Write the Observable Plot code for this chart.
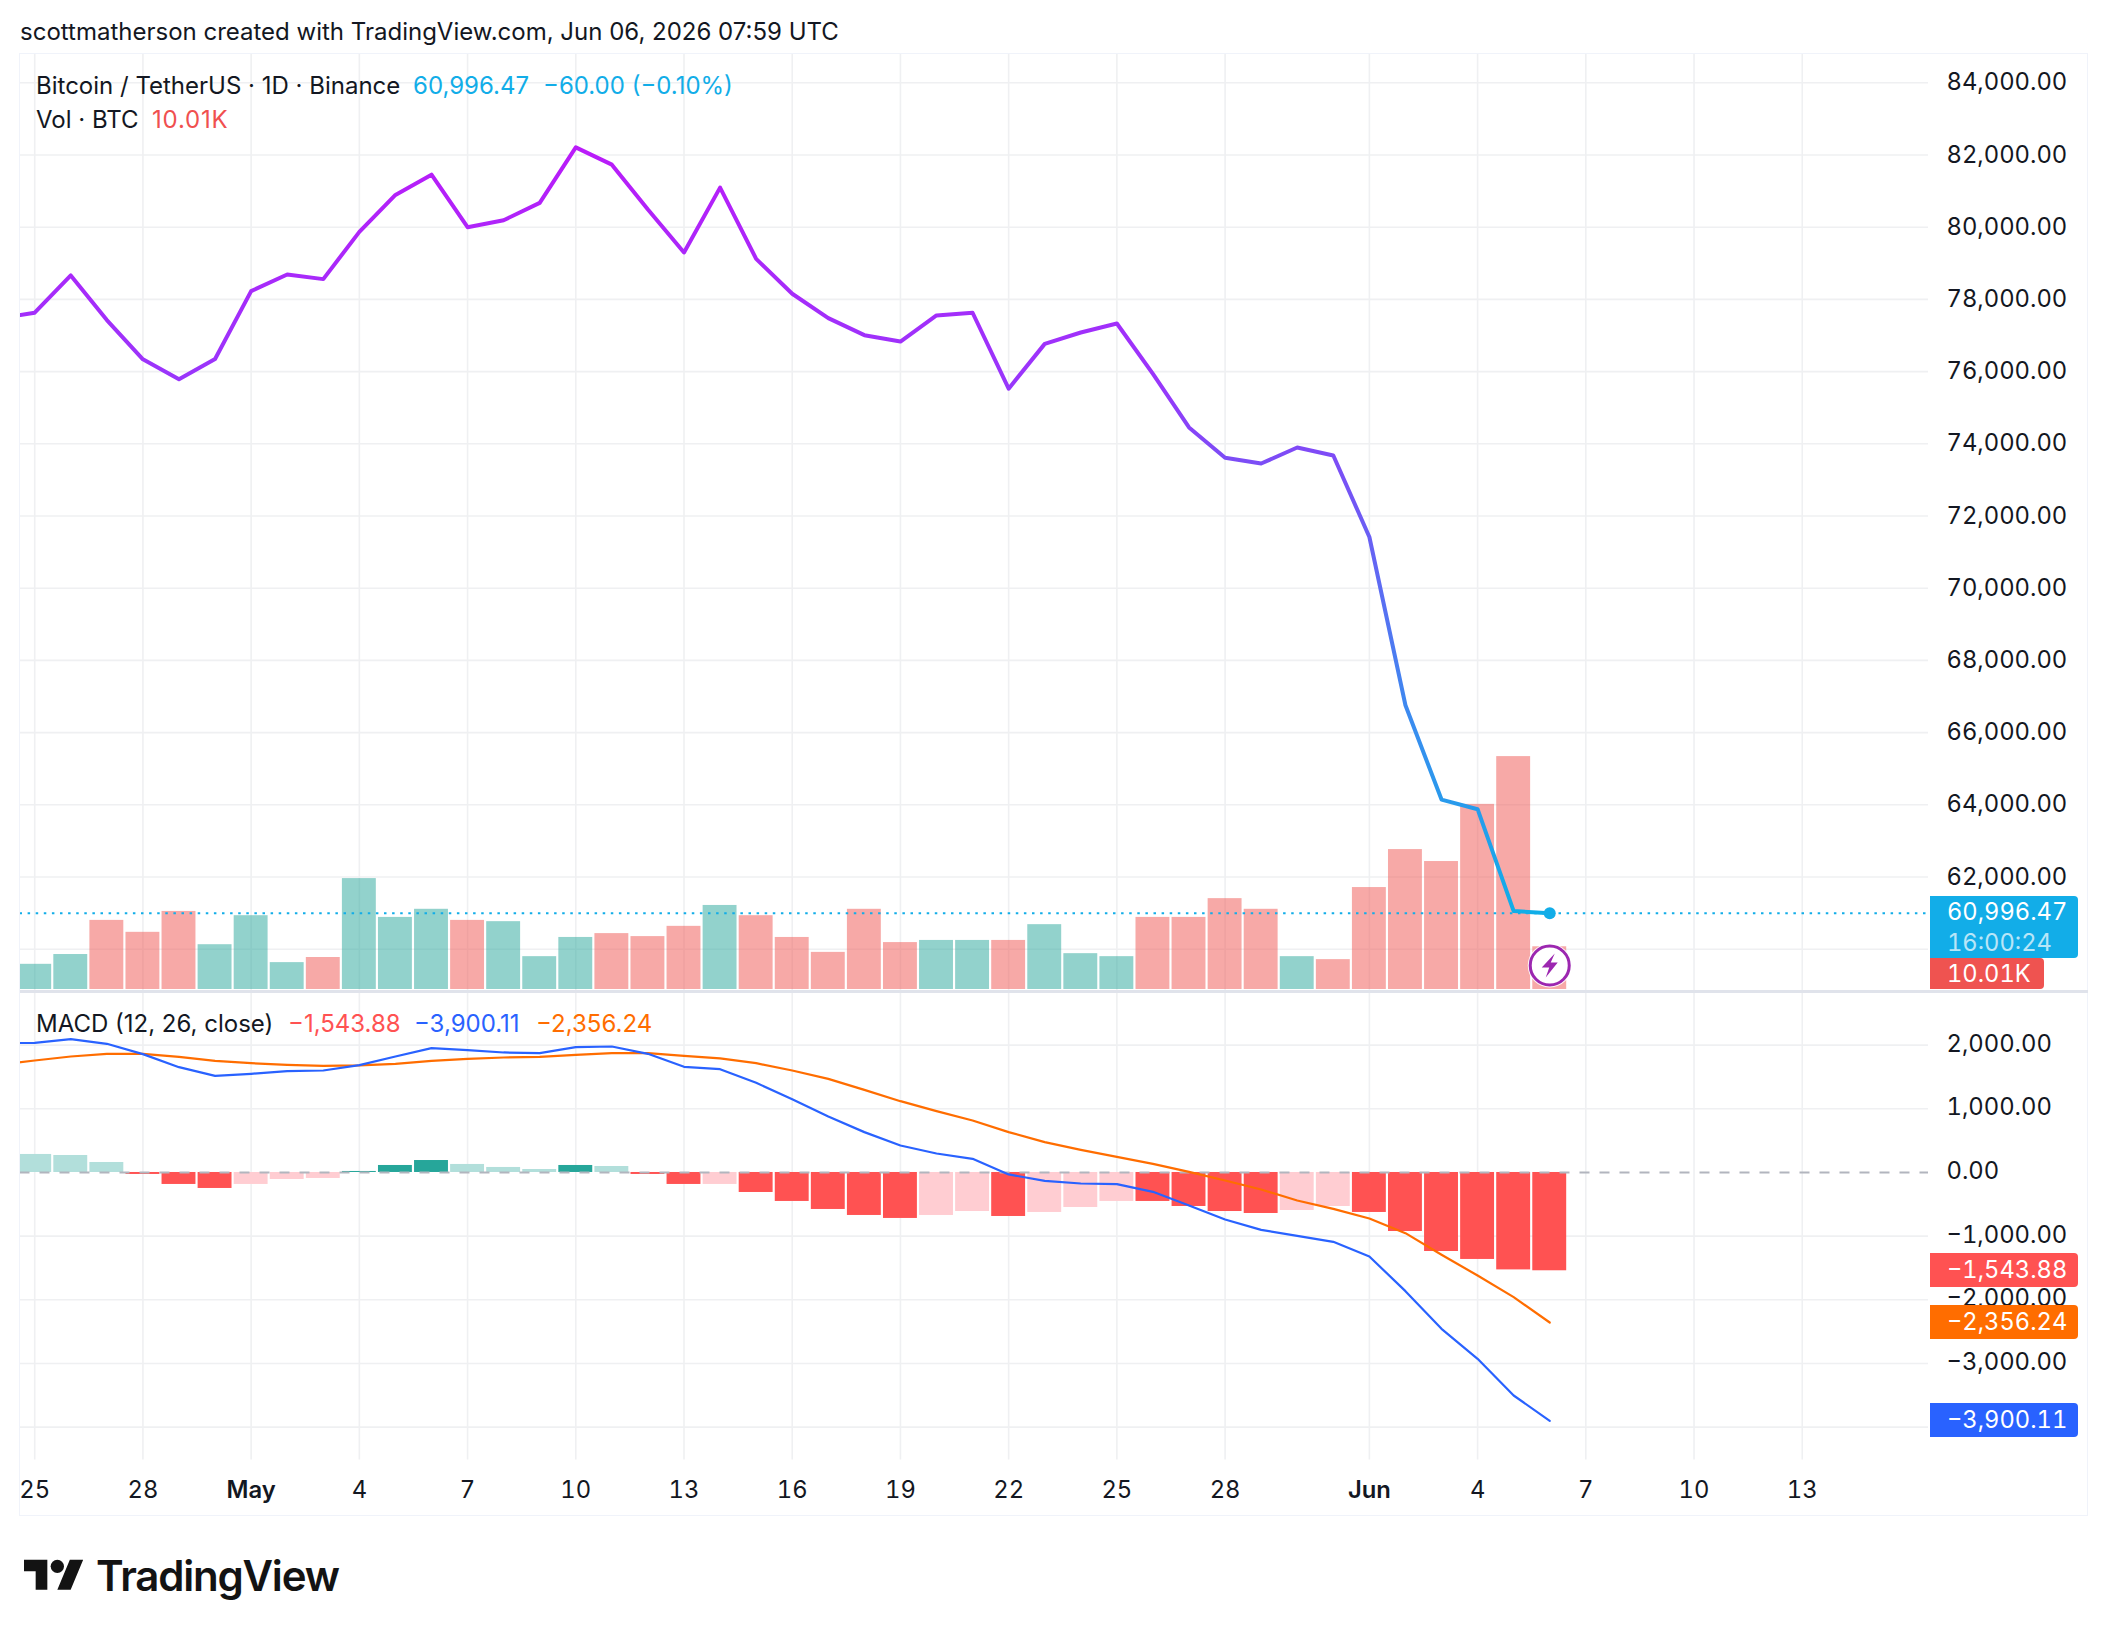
<!DOCTYPE html>
<html>
<head>
<meta charset="utf-8">
<script src="https://cdn.jsdelivr.net/npm/d3@7"></script>
<script src="https://cdn.jsdelivr.net/npm/@observablehq/plot@0.6"></script>
<style>
html,body{margin:0;padding:0;background:#fff;}
#page{position:relative;width:2108px;height:1636px;overflow:hidden;font-family:Inter,sans-serif;color:#131722;background:#fff;}
#page svg.plot{position:absolute;left:0;}
#page svg text{font-variant-numeric:tabular-nums;}
.t{position:absolute;white-space:nowrap;font-size:24px;line-height:30px;}
.tag{position:absolute;left:1930px;width:148px;border-radius:0 4px 4px 0;color:#fff;font-size:23.7px;box-sizing:border-box;padding-left:17px;white-space:nowrap;font-variant-numeric:tabular-nums;}
</style>
</head>
<body>
<div id="page"></div>
<script>
// ---------- data ----------
const firstDay = "2026-04-24";
const closes = [77465,77631,78663,77428,76341,75788,76350,78230,78691,78562,79871,80894,81456,80000,80193,80673,82212,81733,80488,79300,81097,79124,78157,77481,77009,76833,77555,77630,75528,76768,77083,77333,75935,74453,73611,73453,73898,73676,71418,66757,64145,63878,61056.47,60996.47];
const volumeK = [5.9,8.2,16.2,13.4,18.3,10.5,17.3,6.3,7.5,26.0,16.9,18.8,16.2,15.9,7.7,12.2,13.1,12.4,14.8,19.7,17.3,12.2,8.7,18.8,11.0,11.5,11.5,11.5,15.2,8.4,7.7,16.9,16.9,21.3,18.8,7.7,7.0,23.9,32.8,30.0,43.4,54.6,10.01];
const volumeSide = ["g","g","r","r","r","g","g","g","r","g","g","g","r","g","g","g","r","r","r","g","r","r","r","r","r","g","g","r","g","g","g","r","r","r","r","g","r","r","r","r","r","r","r"];
const macdLine = [2030,2037,2094,2021,1859,1654,1518,1550,1592,1602,1686,1822,1953,1921,1885,1874,1969,1979,1864,1660,1623,1408,1152,880,634,424,298,215,-31,-131,-173,-183,-304,-518,-738,-901,-995,-1089,-1319,-1864,-2455,-2927,-3503,-3900.11];
const signalLine = [1691,1759,1822,1864,1864,1817,1754,1717,1691,1675,1681,1707,1754,1785,1806,1817,1848,1874,1874,1832,1791,1717,1602,1471,1298,1120,963,817,634,476,356,246,136,10,-126,-267,-440,-571,-723,-953,-1293,-1618,-1958,-2356.24];
const histogram = [283,267,157,-31,-188,-251,-188,-110,-94,16,110,188,126,79,47,110,94,-31,-188,-188,-314,-455,-581,-675,-722,-675,-613,-691,-628,-550,-455,-455,-534,-613,-644,-597,-534,-628,-927,-1241,-1366,-1530,-1543.88];
const histogramTone = ["l","l","l","s","s","s","l","l","l","s","s","s","l","l","l","s","l","s","s","l","s","s","s","s","s","l","l","s","l","l","l","s","s","s","s","l","l","s","s","s","s","s","s"];
const priceGridTicks = [60000,62000,64000,66000,68000,70000,72000,74000,76000,78000,80000,82000,84000];
const priceLabelTicks = [62000,64000,66000,68000,70000,72000,74000,76000,78000,80000,82000,84000];
const macdGridTicks = [2000,1000,-1000,-2000,-3000,-4000];
const macdLabelTicks = [2000,1000,0,-1000,-2000,-3000];
const dayTicks = ["2026-04-25","2026-04-28","2026-05-04","2026-05-07","2026-05-10","2026-05-13","2026-05-16","2026-05-19","2026-05-22","2026-05-25","2026-05-28","2026-06-04","2026-06-07","2026-06-10","2026-06-13"];
const monthTicks = ["2026-05-01","2026-06-01"];
const lastPrice = 60996.47, markerPrice = 59548;
const xDomain = ["2026-04-24T14:13:00Z","2026-06-16T12:00:00Z"];
const priceDomain = [58828,84784];
const volumeDomain = [0,219.2];
const macdDomain = [-4516,2827];

// ---------- helpers ----------
const D = s => new Date(s);
const dates = d3.utcDay.range(D(firstDay+"T00:00:00Z"), D("2026-06-07T00:00:00Z"));
const barHalf = 0.47*864e5;
const xScale = {type:"utc",domain:xDomain.map(D),axis:null};
const fmt = d3.format(",.2f");
const pageEl = document.getElementById("page");
const grid = "#eff0f2", gridW = 1.6;
const allTicks = dayTicks.concat(monthTicks).map(s=>D(s+"T00:00:00Z"));
const base = {width:2108,marginLeft:19.5,marginRight:180,style:{fontFamily:"Inter,sans-serif",fontSize:"23.8px",color:"#131722",background:"transparent"}};

// frame
function box(css){const e=document.createElement("div");e.style.cssText="position:absolute;"+css;pageEl.appendChild(e);return e;}
box("left:19px;top:53px;width:2067px;height:1461px;border:1.5px solid #f0f3fa;");

// volume bars share the price scale through this aligned mapping
const volToPrice = d3.scaleLinear(volumeDomain,[84000-(989-82.3)/0.0361, 84784]);

const priceRows = dates.map((date,i)=>({date,close:closes[i]}));
const volRows = dates.slice(1).map((date,i)=>({date,v:volumeK[i],side:volumeSide[i]}));

function gradientDefs(){
  const defs=d3.create("svg:defs");
  const g=defs.append("linearGradient").attr("id","priceGrad").attr("x1",0).attr("x2",0).attr("y1",0).attr("y2",1);
  [[0,"#ba1bf9"],[.3,"#9a35fb"],[.4,"#7e4bf6"],[.75,"#3a8cef"],[1,"#10aee8"]].forEach(([o,c])=>g.append("stop").attr("offset",o).attr("stop-color",c));
  return defs.node();
}
const bolt={draw(c){c.moveTo(5,-12);c.lineTo(-8,2);c.lineTo(-0.5,2);c.lineTo(-4,12);c.lineTo(8,-3);c.lineTo(1,-3);c.closePath();}};

const pricePlot = Plot.plot({...base,height:991,marginTop:54,marginBottom:0,
  x:xScale,
  y:{domain:priceDomain,axis:null},
  color:{type:"identity"},
  marks:[
    gradientDefs,
    Plot.ruleY(priceGridTicks,{stroke:grid,strokeWidth:gridW}),
    Plot.ruleX(allTicks,{stroke:grid,strokeWidth:gridW}),
    Plot.rect(volRows,{x1:d=>new Date(+d.date-barHalf),x2:d=>new Date(+d.date+barHalf),
      y1:()=>volToPrice(0),y2:d=>volToPrice(d.v),
      fill:d=>d.side==="g"?"#26a69a":"#ef5350",fillOpacity:.5,clip:"frame"}),
    Plot.ruleY([lastPrice],{stroke:"#12ade8",strokeWidth:2,strokeDasharray:"2.5,5.6"}),
    Plot.lineY(priceRows,{x:"date",y:"close",stroke:"url(#priceGrad)",strokeWidth:4,clip:"frame",curve:"linear",strokeLinejoin:"round"}),
    Plot.dot(priceRows.slice(-1),{x:"date",y:"close",r:6,fill:"#12ade8"}),
    Plot.dot([dates[dates.length-1]],{x:d=>d,y:()=>markerPrice,r:22,fill:"#fff",fillOpacity:.9}),
    Plot.dot([dates[dates.length-1]],{x:d=>d,y:()=>markerPrice,r:19.5,fill:"#fff",stroke:"#9c27b0",strokeWidth:3}),
    Plot.dot([dates[dates.length-1]],{x:d=>d,y:()=>markerPrice,r:11,symbol:bolt,fill:"#9c27b0"}),
    Plot.axisY(priceLabelTicks,{anchor:"right",tickSize:0,tickPadding:18,tickFormat:fmt,label:null,dy:0})
  ]});
pricePlot.style.top="0px";
pageEl.appendChild(pricePlot);

const macdRows = dates.map((date,i)=>({date,macd:macdLine[i],signal:signalLine[i]}));
const histRows = dates.slice(1).map((date,i)=>({date,h:histogram[i],tone:histogramTone[i]}));
const histFill = d => d.h>=0 ? (d.tone==="s"?"#26a69a":"#b2dfdb") : (d.tone==="s"?"#ff5252":"#ffcdd2");

const macdPlot = Plot.plot({...base,height:525,marginTop:1,marginBottom:56.5,
  x:xScale,
  y:{domain:macdDomain,axis:null},
  color:{type:"identity"},
  marks:[
    Plot.ruleY(macdGridTicks,{stroke:grid,strokeWidth:gridW}),
    Plot.ruleX(allTicks,{stroke:grid,strokeWidth:gridW}),
    Plot.rect(histRows,{x1:d=>new Date(+d.date-barHalf),x2:d=>new Date(+d.date+barHalf),y1:()=>0,y2:"h",fill:histFill,clip:"frame"}),
    Plot.ruleY([0],{stroke:"#b2b5be",strokeWidth:2,strokeDasharray:"10,10"}),
    Plot.lineY(macdRows,{x:"date",y:"signal",stroke:"#ff6d00",strokeWidth:2.2,clip:"frame"}),
    Plot.lineY(macdRows,{x:"date",y:"macd",stroke:"#2962ff",strokeWidth:2.2,clip:"frame"}),
    Plot.axisY(macdLabelTicks,{anchor:"right",tickSize:0,tickPadding:18,tickFormat:fmt,label:null,dy:-1}),
    Plot.axisX(dayTicks.map(s=>D(s+"T00:00:00Z")),{anchor:"bottom",tickSize:0,tickPadding:21,tickFormat:d3.utcFormat("%-d"),label:null}),
    Plot.axisX(monthTicks.map(s=>D(s+"T00:00:00Z")),{anchor:"bottom",tickSize:0,tickPadding:21,tickFormat:d3.utcFormat("%b"),fontWeight:600,label:null})
  ]});
macdPlot.style.top="991px";
pageEl.appendChild(macdPlot);

box("left:19.5px;top:990px;width:2068px;height:2.5px;background:#e0e3eb;");

// ---------- texts ----------
function text(x,cy,str,color,extra){const e=document.createElement("div");e.className="t";e.textContent=str;
  e.style.left=x+"px";e.style.top=(cy-15)+"px";if(color)e.style.color=color;if(extra)e.style.cssText+=extra;pageEl.appendChild(e);return e;}
text(20,32,"scottmatherson created with TradingView.com, Jun 06, 2026 07:59 UTC");
text(36,86,"Bitcoin / TetherUS · 1D · Binance");
text(413,86,"60,996.47","#12ade8");
text(543,86,"−60.00 (−0.10%)","#12ade8");
text(36,120,"Vol · BTC");
text(152,120,"10.01K","#f0504f","letter-spacing:0.8px;");
text(36,1024,"MACD (12, 26, close)");
text(288,1024,"−1,543.88","#ff5252");
text(414,1024,"−3,900.11","#2962ff");
text(536,1024,"−2,356.24","#ff6d00");

// ---------- price tags, placed through the plots' scales ----------
const py = pricePlot.scale("y"), my = macdPlot.scale("y");
function tag(top,h,color,lines,width){
  const e=document.createElement("div");e.className="tag";e.style.top=top+"px";e.style.height=h+"px";e.style.background=color;if(width)e.style.width=width+"px";
  lines.forEach(([s,op])=>{const l=document.createElement("div");l.textContent=s;l.style.lineHeight=(h/lines.length)+"px";if(op)l.style.opacity=op;e.appendChild(l);});
  pageEl.appendChild(e);
}
tag(py.apply(lastPrice)-17,62,"#12ade8",[[fmt(lastPrice)],["16:00:24",.7]]);
tag(py.apply(volToPrice(0))-31,31,"#ef5350",[["10.01K"]],114);
[[-1543.88,"#ff5252"],[-2356.24,"#ff6d00"],[-3900.11,"#2962ff"]].forEach(([v,c])=>tag(991+my.apply(v)-17,34,c,[[fmt(v)]]));

// ---------- logo ----------
const logo=d3.select(pageEl).append("svg").attr("width",60).attr("height",46.7).attr("viewBox","0 0 36 28")
  .style("position","absolute").style("left","24px").style("top","1553.3px");
logo.append("path").attr("d","M14 22H7V11H0V4h14v18zM28 22h-8l7.5-18h8L28 22z").attr("fill","#131313");
logo.append("circle").attr("cx",20).attr("cy",8).attr("r",4).attr("fill","#131313");
text(96,1576,"TradingView","#131313","font-size:42px;font-weight:600;letter-spacing:-1.2px;line-height:30px;");
</script>
</body>
</html>
